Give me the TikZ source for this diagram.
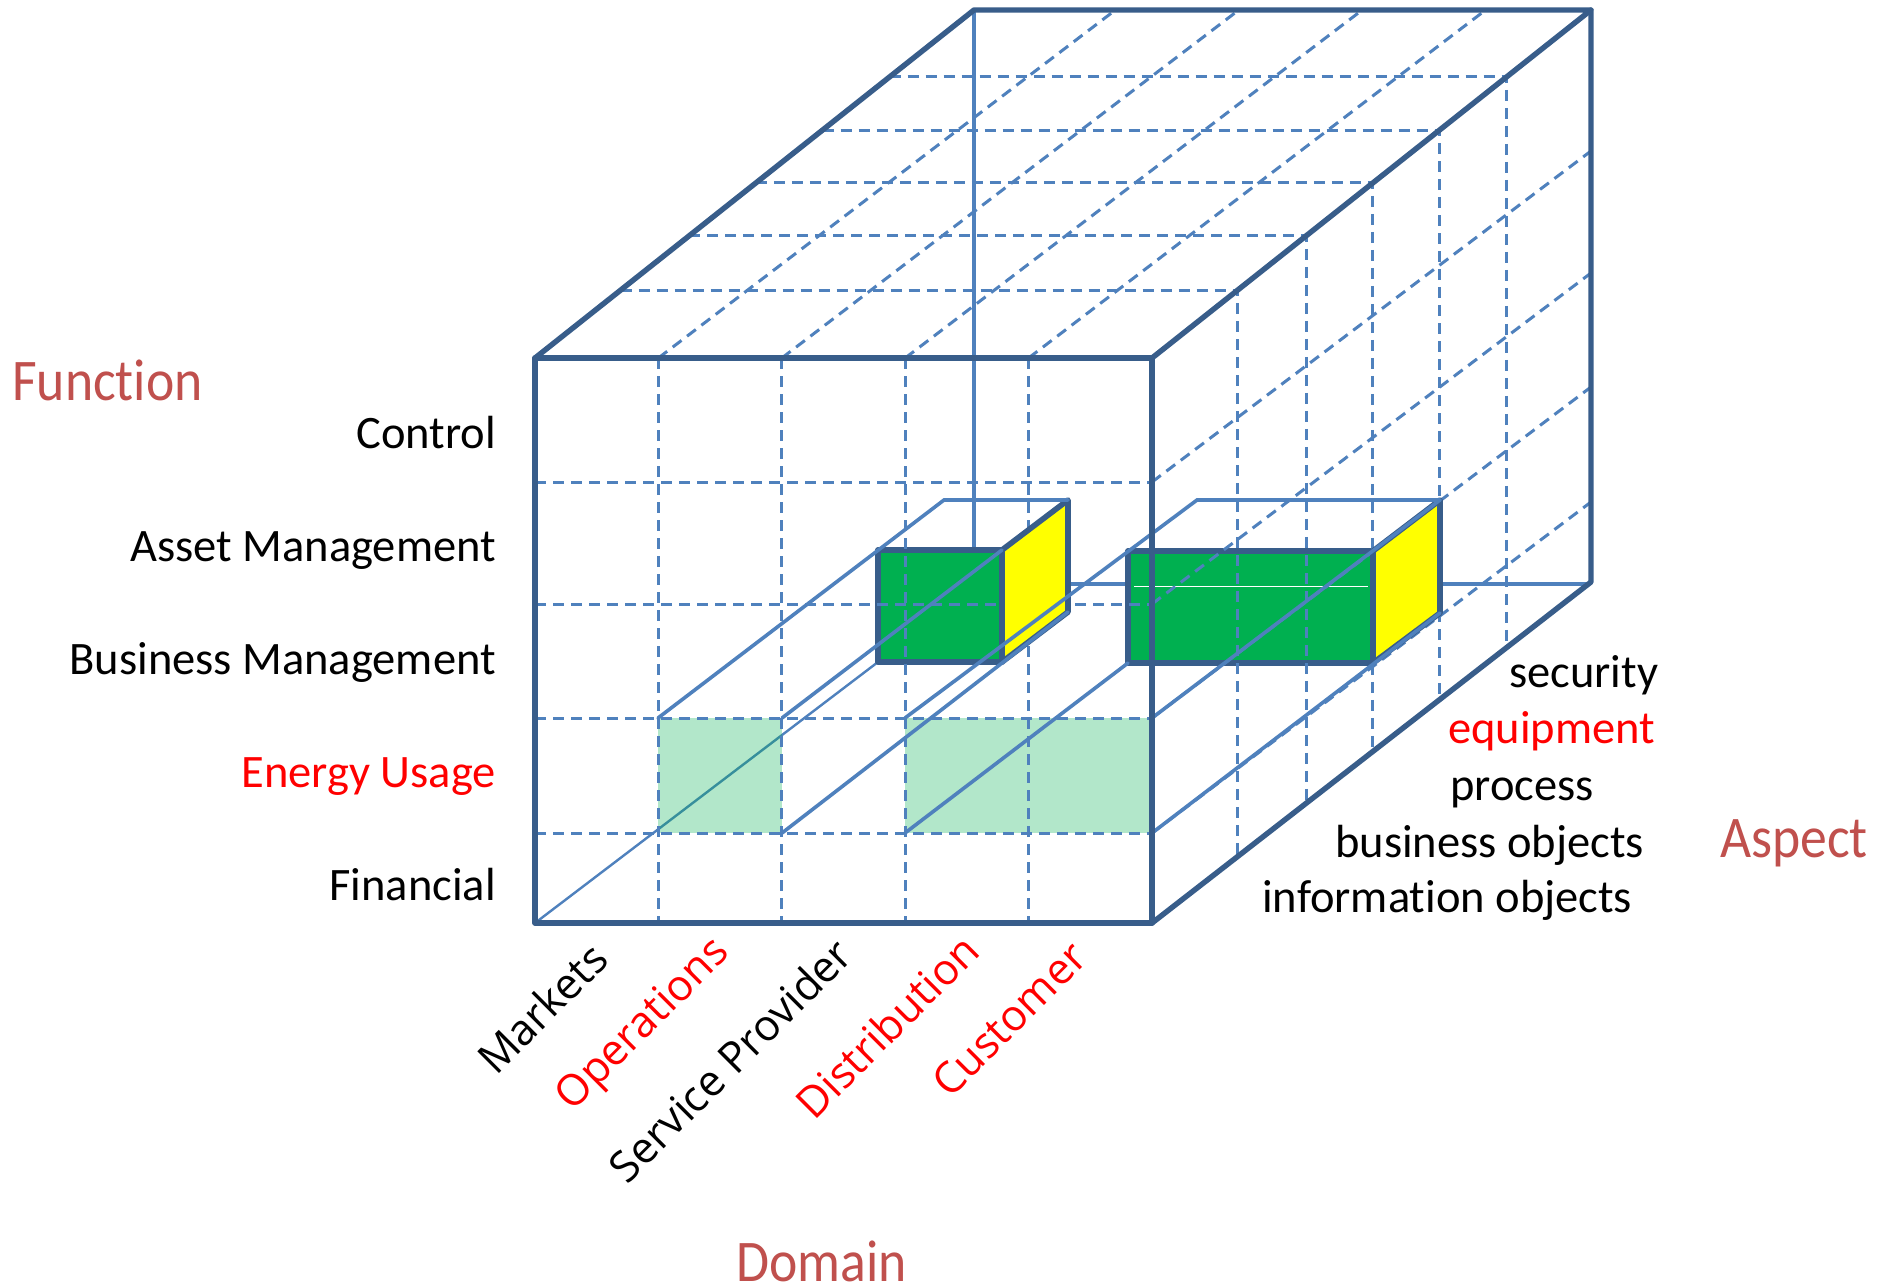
\documentclass[tikz,border=0pt]{standalone}
\usepackage{fontspec}
\usepackage{graphicx}
\setmainfont{Carlito}[Ligatures=NoCommon]
\newfontfamily\rotfont{Open Sans}
\usetikzlibrary{calc}
\definecolor{edgeblue}{HTML}{385D8A}
\definecolor{gridblue}{HTML}{4F81BD}
\definecolor{boxgreen}{HTML}{00B050}
\definecolor{boxyellow}{HTML}{FFFF00}
\definecolor{axisred}{HTML}{C0504D}
\definecolor{hotred}{HTML}{FF0000}
\newcommand{\axistext}[1]{\scalebox{0.91}[1]{#1}}
\tikzset{
  cubeedge/.style={draw=edgeblue,line width=5.4pt,line join=round,line cap=round},
  gridline/.style={draw=gridblue,line width=3pt,dash pattern=on 11pt off 7pt},
  prism/.style={draw=gridblue,line width=3.6pt,line cap=round},
  thinprism/.style={draw=gridblue,line width=2.4pt},
  boxface/.style={draw=edgeblue,line width=5.6pt,line join=round},
  cellfill/.style={fill=boxgreen,fill opacity=0.3},
  lbl/.style={inner sep=0pt,font=\fontsize{46.5}{50}\selectfont},
  axislbl/.style={inner sep=0pt,text=axisred,font=\fontsize{59}{62}\selectfont},
  domlbl/.style={inner sep=0pt,rotate=45,font=\rotfont\fontsize{43}{46}\selectfont},
}
\begin{document}
\begin{tikzpicture}[x=1pt,y=-1pt]
\fill[white] (0,0) rectangle (1885,1286);
\useasboundingbox (0,0) rectangle (1885,1286);

% corners of the cube
\coordinate (FTL) at (535,358);
\coordinate (FTR) at (1152,358);
\coordinate (FBL) at (535,923);
\coordinate (FBR) at (1152,923);
\coordinate (BTL) at (974,10);
\coordinate (BTR) at (1591,10);
\coordinate (BBR) at (1591,582);

% hidden back edges
\draw[gridblue,line width=3.2pt] (BTL) -- (974,550);
\draw[gridblue,line width=3.2pt] (974,584) -- (1588,584);

% thin depth line from the front corner
\draw[thinprism] (FBL) -- (878,662);

% front faces of the two blocks
\filldraw[fill=boxgreen,boxface] (878,550) rectangle (1002,662);
\filldraw[fill=boxgreen,boxface] (1128,551) rectangle (1373,663);
\draw[white,line width=1.2pt] (1134,586.5) -- (1368,586.5);

% highlighted cells on the front face
\fill[cellfill] (658,718) rectangle (782,833);
\fill[cellfill] (905,718) rectangle (1152,833);

% dashed grid: front face
\foreach \y in {482,604,718,833}
  \draw[gridline] (535,\y) -- (1152,\y);
\foreach \x in {658.4,781.8,905.2,1028.6}
  \draw[gridline] (\x,358) -- (\x,923);
% dashed grid: top face, depth direction
\foreach \x in {658.4,781.8,905.2,1028.6}
  \draw[gridline] (\x,358) -- (\x+457,10);
% dashed grid: right face, depth direction
\foreach \y in {482,604,718,833}
  \draw[gridline] (1152,\y) -- (1591,\y-331);
% dashed grid: aspect layers on top and right faces
\foreach \t in {0.195,0.351,0.503,0.655,0.808}
  \draw[gridline] ($(FTL)!\t!(BTL)$) -- ($(FTR)!\t!(BTR)$) -- ($(FBR)!\t!(BBR)$);

% yellow side faces
\filldraw[fill=boxyellow,boxface] (1002,550) -- (1068,500) -- (1068,612) -- (1002,662) -- cycle;
\filldraw[fill=boxyellow,boxface] (1373,551) -- (1440,500) -- (1440,613) -- (1373,663) -- cycle;

% prisms from the front cells back to the blocks
\draw[prism] (658,718) -- (944,500) -- (1068,500);
\draw[prism] (782,718) -- (1002,550);
\draw[prism] (782,833) -- (1068,612);
\draw[prism] (905,718) -- (1197,500) -- (1440,500);
\draw[prism] (1152,718) -- (1440,500);
\draw[prism] (905,833) -- (1128,663);
\draw[prism] (1152,833) -- (1440,613);

% outer edges of the cube
\draw[cubeedge] (FTL) rectangle (FBR);
\draw[cubeedge] (FTL) -- (BTL) -- (BTR) -- (FTR);
\draw[cubeedge] (BTR) -- (BBR) -- (FBR);

% axis titles
\node[axislbl,anchor=base west] (tfun) at (12,400) {\axistext{Function}};
\node[axislbl,anchor=base west] (tasp) at (1720,857) {\axistext{Aspect}};
\node[axislbl,anchor=base west] (tdom) at (736,1281) {\axistext{Domain}};

% function labels
\node[lbl,anchor=base east] (fctl) at (496,448) {Control};
\node[lbl,anchor=base east] (fasm) at (496,561) {Asset Management};
\node[lbl,anchor=base east] (fbsm) at (496,674) {Business Management};
\node[lbl,anchor=base east,text=hotred] (feng) at (496,787) {Energy Usage};
\node[lbl,anchor=base east] (ffin) at (496,900) {Financial};

% aspect labels
\node[lbl,anchor=base west] (asec) at (1509,687) {security};
\node[lbl,anchor=base west,text=hotred] (aequ) at (1448,743) {equipment};
\node[lbl,anchor=base west] (apro) at (1450,800) {process};
\node[lbl,anchor=base west] (abus) at (1335,857) {business objects};
\node[lbl,anchor=base west] (ainf) at (1262,912) {information objects};

% domain labels
\node[domlbl] (dmar) at (542,1008) {Markets};
\node[domlbl,text=hotred] (dops) at (644,1026) {Operations};
\node[domlbl] (dsvc) at (730,1060) {Service Provider};
\node[domlbl,text=hotred] (ddis) at (887,1026) {Distribution};
\node[domlbl,text=hotred] (dcus) at (1009,1019) {Customer};
\end{tikzpicture}
\end{document}
